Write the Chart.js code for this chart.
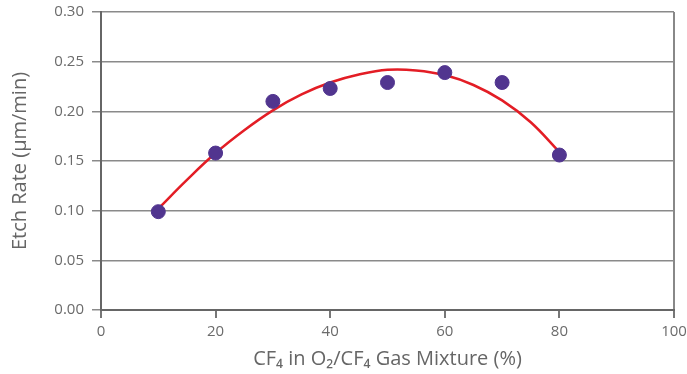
<!DOCTYPE html>
<html>
<head>
<meta charset="utf-8">
<script src="https://cdn.jsdelivr.net/npm/chart.js@4/dist/chart.umd.min.js"></script>
<style>
  html, body { margin: 0; padding: 0; background: #fff; }
  #wrap { width: 687px; height: 374px; position: relative; }
</style>
</head>
<body>
<div id="wrap"><canvas id="c" width="687" height="374"></canvas></div>
<script>
// Measured data (CF4 % vs etch rate)
const cf4Percent = [10, 20, 30, 40, 50, 60, 70, 80];
const etchRate = [0.099, 0.158, 0.210, 0.223, 0.229, 0.239, 0.229, 0.156];

// Fitted trend curve
const fitX = [10, 15, 20, 25, 30, 35, 40, 45, 50, 55, 60, 65, 70, 75, 80];
const fitY = [0.102, 0.131, 0.158, 0.181, 0.201, 0.217, 0.229, 0.237, 0.2418, 0.2412, 0.2365, 0.2265, 0.2110, 0.1890, 0.1590];

const xTicks = [0, 20, 40, 60, 80, 100];
const yTicks = [0, 0.05, 0.10, 0.15, 0.20, 0.25, 0.30];

const FONT = "'Open Sans', 'Noto Sans', sans-serif";

new Chart(document.getElementById('c'), {
  type: 'scatter',
  data: {
    datasets: [
      {
        type: 'line',
        label: 'Fit',
        data: fitX.map((x, i) => ({ x, y: fitY[i] })),
        borderColor: '#e31d25',
        borderWidth: 2.5,
        pointRadius: 0,
        fill: false,
        tension: 0.4,
        order: 2
      },
      {
        label: 'Etch Rate',
        data: cf4Percent.map((x, i) => ({ x, y: etchRate[i] })),
        backgroundColor: '#51358f',
        borderColor: '#51358f',
        pointRadius: 7,
        pointHoverRadius: 7,
        order: 1
      }
    ]
  },
  options: {
    responsive: false,
    animation: false,
    layout: { padding: { top: 12, right: 13, left: 0, bottom: 0 } },
    plugins: { legend: { display: false }, tooltip: { enabled: false } },
    scales: {
      x: {
        type: 'linear',
        min: 0, max: 100,
        afterBuildTicks: s => { s.ticks = xTicks.map(v => ({ value: v })); },
        afterFit: s => { s.height = 64; s.paddingLeft = 0; s.paddingRight = 0; },
        grid: {
          color: ctx => (ctx.tick && ctx.tick.value === 100) ? '#888' : 'rgba(0,0,0,0)',
          lineWidth: 2,
          tickColor: '#777',
          tickLength: 8,
          drawTicks: true
        },
        border: { display: true, color: '#666', width: 2 },
        ticks: {
          color: '#6b6b6b',
          font: { family: FONT, size: 15 },
          padding: 5,
          maxRotation: 0
        },
        title: {
          display: true,
          text: 'CF\u2084 in O\u2082/CF\u2084 Gas Mixture (%)',
          color: '#666',
          font: { family: FONT, size: 20 },
          padding: { top: 4, bottom: 3 }
        }
      },
      y: {
        min: 0, max: 0.30,
        afterBuildTicks: s => { s.ticks = yTicks.map(v => ({ value: v })); },
        afterFit: s => { s.width = 101; s.paddingTop = 0; s.paddingBottom = 0; },
        grid: {
          color: '#8a8a8a',
          lineWidth: 1.5,
          tickColor: '#8a8a8a',
          tickLength: 9
        },
        border: { display: true, color: '#666', width: 2 },
        ticks: {
          color: '#6b6b6b',
          font: { family: FONT, size: 15 },
          padding: 8,
          callback: v => v.toFixed(2)
        },
        title: {
          display: true,
          text: 'Etch Rate (\u03bcm/min)',
          color: '#666',
          font: { family: FONT, size: 20 },
          padding: { top: 8, bottom: 0 }
        }
      }
    }
  }
});
</script>
</body>
</html>
